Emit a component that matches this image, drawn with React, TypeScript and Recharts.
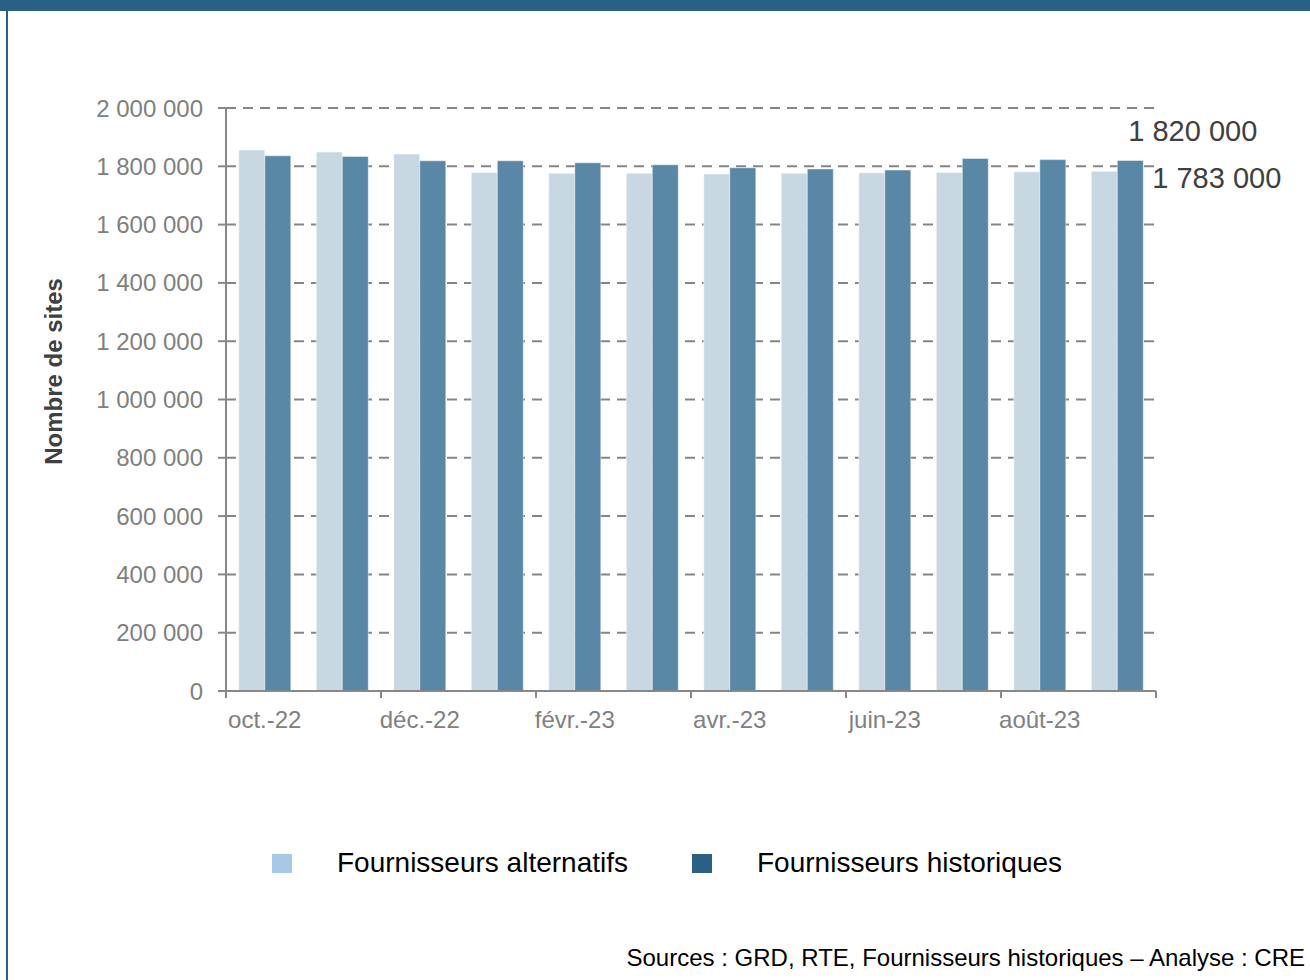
import React from "react";
import {
  BarChart,
  Bar,
  XAxis,
  YAxis,
  CartesianGrid,
  Legend,
  ReferenceDot,
} from "recharts";

const months = [
  "oct.-22",
  "nov.-22",
  "déc.-22",
  "janv.-23",
  "févr.-23",
  "mars-23",
  "avr.-23",
  "mai-23",
  "juin-23",
  "juil.-23",
  "août-23",
  "sept.-23",
];

const alternatifs = [
  1856000, 1849000, 1842000, 1779000, 1776000, 1776000, 1774000, 1776000,
  1778000, 1779000, 1781000, 1783000,
];

const historiques = [
  1836000, 1834000, 1819000, 1819000, 1812000, 1805000, 1795000, 1791000,
  1787000, 1827000, 1823000, 1820000,
];

const yTicks = [
  0, 200000, 400000, 600000, 800000, 1000000, 1200000, 1400000, 1600000,
  1800000, 2000000,
];

const series = [
  { key: "alternatifs", name: "Fournisseurs alternatifs", bar: "#c7d8e2", swatch: "#a7c9e5" },
  { key: "historiques", name: "Fournisseurs historiques", bar: "#5888a6", swatch: "#2a6084" },
];

const data = months.map((month, i) => ({
  month,
  alternatifs: alternatifs[i],
  historiques: historiques[i],
}));

const W = 1310;
const H = 980;
const PLOT_LEFT = 226;
const PLOT_RIGHT = 1156;
const HALF_BAND = (PLOT_RIGHT - PLOT_LEFT) / months.length / 2;
const FONT = "'Liberation Sans', Arial, sans-serif";
const GREY = "#888888";

const fmt = (n: number) => String(n).replace(/\B(?=(\d{3})+(?!\d))/g, " ");

function MonthTick(props: any) {
  const { x, y, payload, index } = props;
  const i = payload?.index ?? index;
  const left = x - HALF_BAND;
  const last = i === months.length - 1;
  return (
    <g>
      {i % 2 === 0 && (
        <line x1={left} x2={left} y1={y} y2={y + 7} stroke={GREY} strokeWidth={2} />
      )}
      {last && (
        <line
          x1={x + HALF_BAND}
          x2={x + HALF_BAND}
          y1={y}
          y2={y + 7}
          stroke={GREY}
          strokeWidth={2}
        />
      )}
      {i % 2 === 0 && (
        <text x={x} y={y + 37} textAnchor="middle" fill="#808080" fontSize={24} fontFamily={FONT}>
          {payload.value}
        </text>
      )}
    </g>
  );
}

function LegendContent() {
  return (
    <div style={{ display: "flex", alignItems: "center", fontFamily: FONT }}>
      {series.map((s, i) => (
        <div
          key={s.key}
          style={{ display: "flex", alignItems: "center", marginLeft: i === 0 ? 272 : 64 }}
        >
          <span style={{ width: 20, height: 19, background: s.swatch, display: "inline-block" }} />
          <span style={{ marginLeft: 45, fontSize: 28, color: "#000", lineHeight: "36px" }}>
            {s.name}
          </span>
        </div>
      ))}
    </div>
  );
}

const annotations = [
  { value: historiques[historiques.length - 1], dx: 11, dy: -19 },
  { value: alternatifs[alternatifs.length - 1], dx: 35, dy: 17 },
];

export default function App() {
  return (
    <div
      style={{
        position: "fixed",
        top: 0,
        left: 0,
        width: W,
        height: H,
        background: "#fff",
        fontFamily: FONT,
        overflow: "hidden",
      }}
    >
      <div style={{ position: "absolute", top: 0, left: 0, width: W, height: 11, background: "#2a6084" }} />
      <div style={{ position: "absolute", top: 0, left: 6, width: 2, height: H, background: "#2a6084" }} />

      <div style={{ position: "absolute", top: 0, left: 0 }}>
        <BarChart
          width={W}
          height={H}
          data={data}
          margin={{ top: 108, right: W - PLOT_RIGHT, bottom: 239, left: 0 }}
          barCategoryGap="16.5%"
          barGap={0}
        >
          <CartesianGrid
            vertical={false}
            stroke="#858585"
            strokeWidth={2}
            strokeDasharray="10 7"
            horizontal={{ stroke: "#858585", strokeWidth: 2, strokeDasharray: "10 7" }}
          />
          <XAxis
            dataKey="month"
            type="category"
            height={50}
            interval={0}
            tickLine={false}
            tickSize={0}
            tickMargin={0}
            axisLine={{ stroke: GREY, strokeWidth: 2 }}
            tick={<MonthTick />}
          />
          <YAxis
            type="number"
            width={PLOT_LEFT}
            domain={[0, 2000000]}
            ticks={yTicks}
            interval={0}
            tickFormatter={fmt}
            tickSize={8}
            tickMargin={15}
            tickLine={{ stroke: GREY, strokeWidth: 2 }}
            axisLine={{ stroke: GREY, strokeWidth: 2 }}
            tick={{ fill: "#808080", fontSize: 24, fontFamily: FONT }}
            label={{
              content: ({ viewBox }: any) => {
                const cx = viewBox.x + 62;
                const cy = viewBox.y + viewBox.height / 2 - 28;
                return (
                  <text
                    x={cx}
                    y={cy}
                    transform={`rotate(-90 ${cx} ${cy})`}
                    textAnchor="middle"
                    fontSize={24}
                    fontWeight="bold"
                    fill="#404040"
                    fontFamily={FONT}
                  >
                    Nombre de sites
                  </text>
                );
              },
            }}
          />
          {series.map((s) => (
            <Bar
              key={s.key}
              dataKey={s.key}
              name={s.name}
              fill={s.bar}
              stroke="#ffffff"
              strokeOpacity={0.45}
              strokeWidth={1}
              isAnimationActive={false}
            />
          ))}
          {annotations.map((a, i) => (
            <ReferenceDot
              key={i}
              x={months[months.length - 1]}
              y={a.value}
              r={0}
              ifOverflow="visible"
              stroke="none"
              fill="none"
              label={{
                content: ({ viewBox }: any) => (
                  <text
                    x={viewBox.x + a.dx}
                    y={viewBox.y + a.dy}
                    fontSize={29}
                    fill="#404040"
                    fontFamily={FONT}
                  >
                    {fmt(a.value)}
                  </text>
                ),
              }}
            />
          ))}
          <Legend
            layout="vertical"
            verticalAlign="middle"
            align="center"
            content={<LegendContent />}
            wrapperStyle={{ top: 845, left: 0, width: W }}
          />
        </BarChart>
      </div>

      <div
        style={{
          position: "absolute",
          top: 946,
          right: 5,
          fontSize: 24,
          lineHeight: "24px",
          color: "#000",
          whiteSpace: "nowrap",
        }}
      >
        Sources : GRD, RTE, Fournisseurs historiques – Analyse : CRE
      </div>
    </div>
  );
}
